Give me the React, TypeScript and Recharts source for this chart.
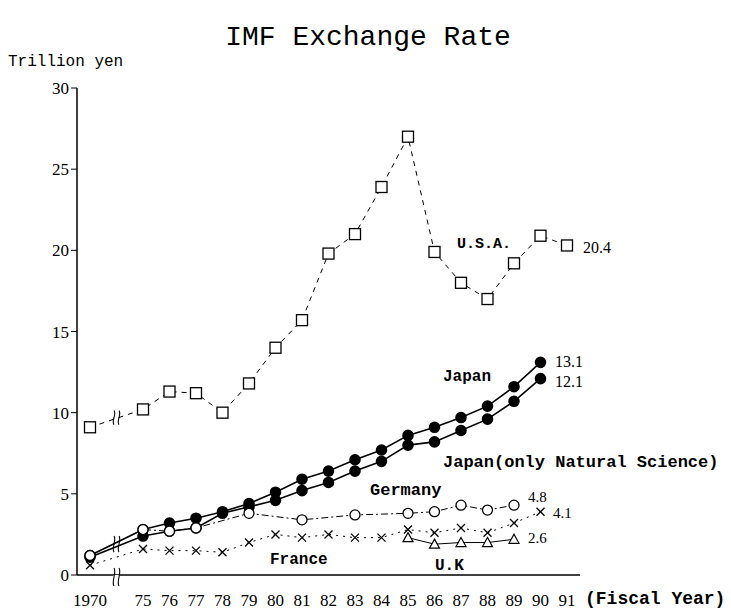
import { LineChart, Line, XAxis, YAxis, ReferenceDot } from 'recharts';

// fiscal years; "gap" is the broken stretch between 1970 and 75
const years = ['1970', 'gap', '75', '76', '77', '78', '79', '80', '81', '82', '83', '84', '85', '86', '87', '88', '89', '90', '91'];

// trillion yen
const usa = [9.1, null, 10.2, 11.3, 11.2, 10.0, 11.8, 14.0, 15.7, 19.8, 21.0, 23.9, 27.0, 19.9, 18.0, 17.0, 19.2, 20.9, 20.3];
const japan = [1.2, null, 2.8, 3.2, 3.5, 3.9, 4.4, 5.1, 5.9, 6.4, 7.1, 7.7, 8.6, 9.1, 9.7, 10.4, 11.6, 13.1, null];
const japanNS = [1.1, null, 2.4, 2.7, 2.9, 3.8, 4.2, 4.6, 5.2, 5.7, 6.4, 7.0, 8.0, 8.2, 8.9, 9.6, 10.7, 12.1, null];
const germany = [1.2, null, 2.8, 2.7, 2.9, null, 3.8, null, 3.4, null, 3.7, null, 3.8, 3.9, 4.3, 4.0, 4.3, null, null];
const france = [0.6, null, 1.6, 1.5, 1.5, 1.4, 2.0, 2.5, 2.3, 2.5, 2.3, 2.3, 2.8, 2.6, 2.9, 2.6, 3.2, 3.9, null];
const uk = [null, null, null, null, null, null, null, null, null, null, null, null, 2.3, 1.9, 2.0, 2.0, 2.2, null, null];

const yTicks = [0, 5, 10, 15, 20, 25, 30];

const data = years.map((year, i) => ({
  year,
  usa: usa[i],
  japan: japan[i],
  japanNS: japanNS[i],
  germany: germany[i],
  france: france[i],
  uk: uk[i],
}));

const MONO = '"Liberation Mono", "DejaVu Sans Mono", monospace';
const SERIF = '"Liberation Serif", "DejaVu Serif", serif';

const squareDot = (props: any) => {
  const { cx, cy, index } = props;
  if (cx == null || cy == null) return <g key={`sq-${index}`} />;
  return (
    <rect key={`sq-${index}`} x={cx - 5.5} y={cy - 5.5} width={11} height={11}
      fill="#fff" stroke="#000" strokeWidth={1.3} />
  );
};

const crossDot = (props: any) => {
  const { cx, cy, index } = props;
  if (cx == null || cy == null) return <g key={`x-${index}`} />;
  return (
    <path key={`x-${index}`} d={`M${cx - 4},${cy - 4}L${cx + 4},${cy + 4}M${cx - 4},${cy + 4}L${cx + 4},${cy - 4}`}
      stroke="#000" strokeWidth={1.3} fill="none" />
  );
};

const triangleDot = (props: any) => {
  const { cx, cy, index } = props;
  if (cx == null || cy == null) return <g key={`t-${index}`} />;
  return (
    <path key={`t-${index}`} d={`M${cx},${cy - 5}L${cx + 5},${cy + 4}L${cx - 5},${cy + 4}Z`}
      stroke="#000" strokeWidth={1.2} fill="#fff" />
  );
};

// two wavy strokes marking the broken axis / lines
const BreakMark = ({ cx, cy, h = 8, clear = false }: any) => {
  if (cx == null || cy == null) return <g />;
  const wave = (x: number) =>
    `M${x},${cy - h} C${x + 3},${cy - h / 2} ${x - 3},${cy + h / 2} ${x},${cy + h}`;
  return (
    <g>
      {clear && <rect x={cx - 3} y={cy - 2} width={6} height={4} fill="#fff" />}
      <path d={wave(cx - 2.5)} stroke="#000" strokeWidth={1.1} fill="none" />
      <path d={wave(cx + 2.5)} stroke="#000" strokeWidth={1.1} fill="none" />
    </g>
  );
};

const XTick = ({ x, y, payload }: any) => {
  if (payload.value === 'gap') return <BreakMark cx={x} cy={y} h={9} clear />;
  return (
    <text x={x} y={y + 29} textAnchor="middle" fontFamily={SERIF} fontSize={17} fill="#000">
      {payload.value}
    </text>
  );
};

const labelStyle = { fontFamily: MONO, fontWeight: 'bold' as const, fill: '#000' };

export default function App() {
  return (
    <div style={{ position: 'absolute', left: 0, top: 0, width: 731, height: 609, background: '#fff' }}>
      <LineChart width={731} height={609} data={data} margin={{ top: 88, right: 151, bottom: 0, left: 37 }}>
        <XAxis dataKey="year" height={34} tickLine={false} tickSize={0} interval={0}
          padding={{ left: 13, right: 13 }}
          axisLine={{ stroke: '#000', strokeWidth: 1.5 }} tick={<XTick />} />
        <YAxis type="number" domain={[0, 30]} ticks={yTicks} width={40} interval={0}
          axisLine={{ stroke: '#000', strokeWidth: 1.5 }} tickLine={{ stroke: '#000' }}
          tickSize={6} tickMargin={2}
          tick={{ fontFamily: SERIF, fontSize: 17, fill: '#000' }} />
        <Line dataKey="usa" stroke="#000" strokeWidth={1} strokeDasharray="5 5" connectNulls
          dot={squareDot} isAnimationActive={false} />
        <Line dataKey="japan" stroke="#000" strokeWidth={1.6} connectNulls
          dot={{ r: 5, fill: '#000', stroke: '#000' }} isAnimationActive={false} />
        <Line dataKey="japanNS" stroke="#000" strokeWidth={1.6} connectNulls
          dot={{ r: 5, fill: '#000', stroke: '#000' }} isAnimationActive={false} />
        <Line dataKey="germany" stroke="#000" strokeWidth={1} strokeDasharray="7 3 2 3" connectNulls
          dot={{ r: 5, fill: '#fff', stroke: '#000', strokeWidth: 1.3, strokeDasharray: '' }} isAnimationActive={false} />
        <Line dataKey="france" stroke="#000" strokeWidth={1} strokeDasharray="2 5" connectNulls
          dot={crossDot} isAnimationActive={false} />
        <Line dataKey="uk" stroke="#000" strokeWidth={1} connectNulls
          dot={triangleDot} isAnimationActive={false} />
        <ReferenceDot x="gap" y={9.7} r={0} shape={(p: any) => <BreakMark {...p} h={7} />} />
        <ReferenceDot x="gap" y={1.9} r={0} shape={(p: any) => <BreakMark {...p} h={8} />} />
      </LineChart>
      <svg width={731} height={609} style={{ position: 'absolute', left: 0, top: 0, pointerEvents: 'none' }}>
        <text x={368} y={45} textAnchor="middle" fontFamily={MONO} fontSize={28} fill="#000">IMF Exchange Rate</text>
        <text x={8} y={66} fontFamily={MONO} fontSize={16} fill="#000">Trillion yen</text>
        <text x={585} y={604} fontFamily={MONO} fontSize={18} fontWeight="bold" fill="#000">(Fiscal Year)</text>
        <text x={457} y={248} fontSize={15} {...labelStyle}>U.S.A.</text>
        <text x={583} y={253} fontFamily={SERIF} fontSize={16} fill="#000">20.4</text>
        <text x={443} y={381} fontSize={16} {...labelStyle}>Japan</text>
        <text x={555} y={367} fontFamily={SERIF} fontSize={16} fill="#000">13.1</text>
        <text x={555} y={387} fontFamily={SERIF} fontSize={16} fill="#000">12.1</text>
        <text x={443} y={467} fontSize={17} {...labelStyle}>Japan(only Natural Science)</text>
        <text x={370} y={495} fontSize={17} {...labelStyle}>Germany</text>
        <text x={528} y={502} fontFamily={SERIF} fontSize={15} fill="#000">4.8</text>
        <text x={553} y={518} fontFamily={SERIF} fontSize={15} fill="#000">4.1</text>
        <text x={528} y={543} fontFamily={SERIF} fontSize={15} fill="#000">2.6</text>
        <text x={270} y={564} fontSize={16} {...labelStyle}>France</text>
        <text x={435} y={570} fontSize={16} {...labelStyle}>U.K</text>
      </svg>
    </div>
  );
}
